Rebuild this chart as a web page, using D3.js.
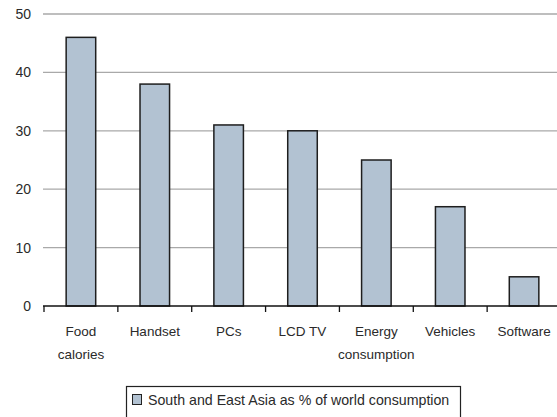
<!DOCTYPE html>
<html>
<head>
<meta charset="utf-8">
<script src="https://cdn.jsdelivr.net/npm/d3@7"></script>
<style>
  html, body { margin: 0; padding: 0; background: #fff; }
  svg { display: block; }
  text { font-family: "Liberation Sans", Arial, sans-serif; fill: #2a2a2a; }
</style>
</head>
<body>
<svg id="chart" width="557" height="417"></svg>
<script>
// Share of world consumption, South and East Asia (%)
const categories = [
  ["Food", "calories"],
  ["Handset"],
  ["PCs"],
  ["LCD TV"],
  ["Energy", "consumption"],
  ["Vehicles"],
  ["Software"]
];
const shareValues = [46, 38, 31, 30, 25, 17, 5];
const yTicks = [0, 10, 20, 30, 40, 50];
const seriesName = "South and East Asia as % of world consumption";

const svg = d3.select("#chart");
const plotLeft = 44, plotRight = 561, plotTop = 14, plotBottom = 306;

const keys = categories.map(c => c.join(" "));

// One slot per category (tick marks at slot edges)
const slot = d3.scaleBand().domain(keys).range([plotLeft, plotRight]).padding(0);
// Bars sit in the middle 40% of each slot
const x = d3.scaleBand().domain(keys).range([plotLeft, plotRight])
  .paddingInner(0.6).paddingOuter(0.3);
const y = d3.scaleLinear().domain([0, 50]).range([plotBottom, plotTop]);

// Horizontal gridlines
svg.append("g")
  .selectAll("line")
  .data(yTicks.filter(t => t > 0))
  .join("line")
  .attr("x1", plotLeft - 1).attr("x2", 557)
  .attr("y1", d => y(d)).attr("y2", d => y(d))
  .attr("stroke", "#a9a9a9").attr("stroke-width", 1.3);

// Y tick labels
svg.append("g")
  .selectAll("text")
  .data(yTicks)
  .join("text")
  .attr("x", 31).attr("y", d => y(d))
  .attr("dy", "0.36em")
  .attr("text-anchor", "end")
  .style("font-size", "14px")
  .text(d => d);

// Bars
svg.append("g")
  .selectAll("rect")
  .data(shareValues)
  .join("rect")
  .attr("x", (d, i) => x(keys[i]))
  .attr("width", x.bandwidth())
  .attr("y", d => y(d))
  .attr("height", d => y(0) - y(d))
  .attr("fill", "#b2c2d2")
  .attr("stroke", "#1e1e1e").attr("stroke-width", 1.5);

// X axis line and slot tick marks
const xAxis = svg.append("g");
xAxis.append("line")
  .attr("x1", plotLeft - 1).attr("x2", 557)
  .attr("y1", plotBottom).attr("y2", plotBottom)
  .attr("stroke", "#111").attr("stroke-width", 1.5);
xAxis.selectAll("line.tick")
  .data(keys)
  .join("line")
  .attr("class", "tick")
  .attr("x1", d => slot(d)).attr("x2", d => slot(d))
  .attr("y1", plotBottom).attr("y2", plotBottom + 6)
  .attr("stroke", "#111").attr("stroke-width", 1.3);

// Category labels (wrapped onto two lines where needed)
const labels = svg.append("g")
  .selectAll("text")
  .data(categories)
  .join("text")
  .attr("x", (d, i) => slot(keys[i]) + slot.bandwidth() / 2)
  .attr("y", 336)
  .attr("text-anchor", "middle")
  .style("font-size", "13.5px");
labels.each(function(d) {
  const t = d3.select(this);
  d.forEach((line, j) => {
    t.append("tspan")
      .attr("x", t.attr("x"))
      .attr("dy", j === 0 ? 0 : 23)
      .text(line);
  });
});

// Legend
const legend = svg.append("g");
legend.append("rect")
  .attr("x", 126.5).attr("y", 386.5)
  .attr("width", 334).attr("height", 40)
  .attr("fill", "#fff").attr("stroke", "#222").attr("stroke-width", 1.2);
legend.append("rect")
  .attr("x", 132.5).attr("y", 394.5)
  .attr("width", 9).attr("height", 10)
  .attr("fill", "#b2c2d2").attr("stroke", "#222").attr("stroke-width", 1);
legend.append("text")
  .attr("x", 148).attr("y", 405)
  .style("font-size", "14.2px")
  .text(seriesName);
</script>
</body>
</html>
